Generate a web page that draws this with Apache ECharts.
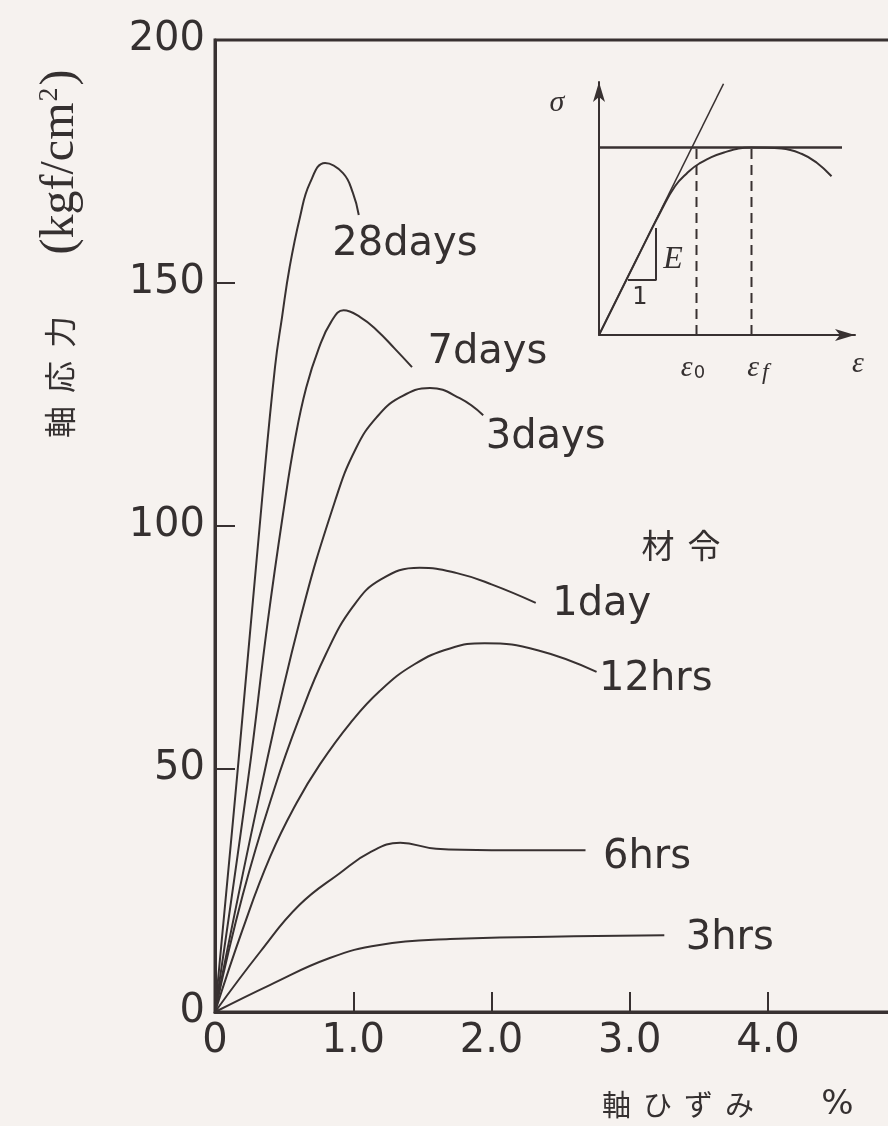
<!DOCTYPE html>
<html>
<head>
<meta charset="utf-8">
<script src="https://cdn.jsdelivr.net/npm/echarts@6/dist/echarts.min.js"></script>
<style>
  html, body { margin: 0; padding: 0; background: #f6f2ef; }
  #chart { width: 888px; height: 1126px; }
</style>
</head>
<body>
<div id="chart"></div>
<script>
// Axial stress (kgf/cm2) versus axial strain (%) of concrete at different ages.
const curveNames = ['28days', '7days', '3days', '1day', '12hrs', '6hrs', '3hrs'];

const days28 = [[0,0],[0.166,50.4],[0.34,105.3],[0.434,132.7],[0.485,143],[0.54,153.3],[0.615,163.6],[0.687,170.6],[0.796,174.7],[0.926,172.6],[0.998,168.5],[1.04,164]];
const days7  = [[0,0],[0.24,48],[0.38,80],[0.5,104],[0.58,118],[0.66,128.5],[0.75,136.5],[0.84,142],[0.93,144.4],[1.05,143],[1.17,140.3],[1.3,136.5],[1.425,132.7]];
const days3  = [[0,0],[0.33,45.7],[0.615,80.7],[0.87,105.3],[1.02,116],[1.17,122.4],[1.34,126.5],[1.555,128.4],[1.77,126.3],[1.94,122.8]];
const day1   = [[0,0],[0.2,24],[0.43,46],[0.61,60.5],[0.8,73.5],[1.0,83.5],[1.2,89],[1.48,91.4],[1.75,90.3],[2.0,88],[2.32,84.2]];
const hrs12  = [[0,0],[0.2,17],[0.4,32],[0.59,43],[0.76,51],[0.98,59.5],[1.19,66],[1.44,71.5],[1.7,74.8],[1.95,75.9],[2.34,74.4],[2.76,70]];
const hrs6   = [[0,0],[0.33,12.5],[0.61,22],[0.9,28.5],[1.13,33],[1.34,34.8],[1.6,33.6],[2.0,33.3],[2.68,33.3]];
const hrs3   = [[0,0],[0.4,5.6],[0.83,11.1],[1.19,13.8],[1.7,15],[2.42,15.5],[3.25,15.8]];
const curves = [days28, days7, days3, day1, hrs12, hrs6, hrs3];

const xTickLabels = ['0', '1.0', '2.0', '3.0', '4.0', ''];
const yTickLabels = ['0', '50', '100', '150', '200'];

// Age caption placed inside the plot (strain %, stress)
const ageCaption = [[3.37, 96]];

// Schematic inset: idealised stress-strain curve (arbitrary units)
const insetCurve   = [[0,0],[1.5,3.02],[2.5,5.0],[3.04,5.95],[3.5,6.45],[4.0,6.85],[5,7.3],[6.1,7.5],[7.3,7.46],[8.1,7.25],[8.7,6.9],[9.3,6.35]];
const insetTangent = [[0,0],[4.98,10.05]];
const insetPeak    = [[0,7.5],[9.72,7.5]];
const insetEps0    = [[3.9,0],[3.9,7.5]];
const insetEpsF    = [[6.1,0],[6.1,7.5]];
const insetSlope   = [[1.16,2.2],[2.28,2.2],[2.28,4.28]];
const insetLabels  = [
  { value: [-1.68, 9.28], text: '{i|σ}' },
  { value: [2.96, 3.0],  text: '{e|E}' },
  { value: [1.64, 1.48], text: '{n|1}' },
  { value: [3.76, -1.32], text: '{g|ε}{sub|0}' },
  { value: [6.36, -1.32], text: '{g|ε}{subi|f}' },
  { value: [10.36, -1.16], text: '{g|ε}' }
];

// Label offsets (px) relative to the end of each curve
const labelOffsets = [[-27, 30], [15, -14], [2, 22], [16, 2], [2, 8], [17, 7], [21, 3]];

const ink = '#383131';
const textInk = '#353030';
const sans = 'DejaVu Sans';
const cjk = 'Noto Sans CJK JP';
const serif = 'Liberation Serif';

const chart = echarts.init(document.getElementById('chart'), null, { renderer: 'canvas' });

const mainSeries = curves.map((pts, i) => ({
  type: 'line',
  name: curveNames[i],
  xAxisIndex: 0, yAxisIndex: 0,
  data: pts,
  smooth: 0.45,
  showSymbol: false,
  lineStyle: { color: ink, width: 2 },
  silent: true,
  z: 3
}));

const endLabelSeries = {
  type: 'scatter',
  xAxisIndex: 0, yAxisIndex: 0,
  symbolSize: 1,
  itemStyle: { color: 'rgba(0,0,0,0)', opacity: 1 },
  clip: false,
  silent: true,
  data: curves.map((pts, i) => ({
    value: pts[pts.length - 1],
    label: {
      show: true,
      position: 'right',
      distance: 0,
      offset: labelOffsets[i],
      formatter: curveNames[i],
      fontFamily: sans,
      fontSize: 40,
      color: textInk,
      opacity: 1
    }
  })),
  z: 4
};

const captionSeries = {
  type: 'scatter',
  xAxisIndex: 0, yAxisIndex: 0,
  symbolSize: 0,
  itemStyle: { opacity: 1 },
  silent: true,
  data: ageCaption,
  label: {
    show: true,
    position: 'inside',
    formatter: '{c|材}{c|令}',
    rich: { c: { fontFamily: cjk, fontSize: 33, width: 46, align: 'center', color: textInk } }
  }
};

function insetLine(data, extra) {
  return Object.assign({
    type: 'line',
    xAxisIndex: 1, yAxisIndex: 1,
    data: data,
    showSymbol: false,
    silent: true,
    clip: false,
    lineStyle: { color: ink, width: 2 }
  }, extra || {});
}

const insetSeries = [
  insetLine(insetCurve, { smooth: 0.45 }),
  insetLine(insetTangent, { lineStyle: { color: ink, width: 1.6 } }),
  insetLine(insetPeak, { lineStyle: { color: ink, width: 2.4 } }),
  insetLine(insetEps0, { lineStyle: { color: ink, width: 2, type: [10, 6] } }),
  insetLine(insetEpsF, { lineStyle: { color: ink, width: 2, type: [10, 6] } }),
  insetLine(insetSlope, { lineStyle: { color: ink, width: 2 } }),
  {
    type: 'scatter',
    xAxisIndex: 1, yAxisIndex: 1,
    symbolSize: 0,
    itemStyle: { opacity: 1 },
    clip: false,
    silent: true,
    data: insetLabels.map(d => ({ value: d.value, label: { formatter: d.text } })),
    label: {
      show: true,
      position: 'inside',
      color: textInk,
      rich: {
        i: { fontFamily: serif, fontStyle: 'italic', fontSize: 30, color: textInk },
        e: { fontFamily: serif, fontStyle: 'italic', fontSize: 32, color: textInk },
        n: { fontFamily: sans, fontSize: 24, color: textInk },
        g: { fontFamily: serif, fontStyle: 'italic', fontSize: 30, color: textInk },
        sub: { fontFamily: sans, fontSize: 18, color: textInk, padding: [10, 0, 0, 1] },
        subi: { fontFamily: serif, fontStyle: 'italic', fontSize: 24, color: textInk, padding: [10, 0, 0, 3] }
      }
    }
  }
];

const option = {
  backgroundColor: '#f6f2ef',
  animation: false,
  grid: [
    { left: 215, top: 40, width: 691.25, height: 972, show: true, borderColor: ink, borderWidth: 3,
      backgroundColor: 'transparent', outerBoundsMode: 'none', containLabel: false },
    { left: 599, top: 82, width: 256, height: 253, outerBoundsMode: 'none', containLabel: false }
  ],
  xAxis: [
    {
      type: 'value', gridIndex: 0, min: 0, max: 5, interval: 1,
      axisLine: { show: true, lineStyle: { color: ink, width: 3 } },
      axisTick: { show: true, inside: true, length: 20, lineStyle: { color: ink, width: 2 } },
      axisLabel: {
        margin: 10, fontFamily: sans, fontSize: 40, color: textInk,
        formatter: v => xTickLabels[Math.round(v)]
      },
      splitLine: { show: false }
    },
    {
      type: 'value', gridIndex: 1, min: 0, max: 10.24,
      axisLine: { show: true, symbol: ['none', 'arrow'], symbolSize: [9, 20], lineStyle: { color: ink, width: 2 } },
      axisTick: { show: false }, axisLabel: { show: false }, splitLine: { show: false }
    }
  ],
  yAxis: [
    {
      type: 'value', gridIndex: 0, min: 0, max: 200, interval: 50,
      axisLine: { show: true, lineStyle: { color: ink, width: 3 } },
      axisTick: { show: true, inside: true, length: 20, lineStyle: { color: ink, width: 2 } },
      axisLabel: {
        margin: 10, fontFamily: sans, fontSize: 40, color: textInk,
        formatter: v => yTickLabels[Math.round(v / 50)]
      },
      splitLine: { show: false }
    },
    {
      type: 'value', gridIndex: 1, min: 0, max: 10.12,
      axisLine: { show: true, symbol: ['none', 'arrow'], symbolSize: [9, 20], lineStyle: { color: ink, width: 2 } },
      axisTick: { show: false }, axisLabel: { show: false }, splitLine: { show: false }
    }
  ],
  graphic: [
    {
      type: 'text',
      x: 60, y: 257,
      rotation: Math.PI / 2,
      silent: true,
      style: {
        text: '{c|軸}{c|応}{c|力}{g|}{r|(kgf/cm}{s|2}{r|)}',
        align: 'center',
        verticalAlign: 'middle',
        fill: textInk,
        rich: {
          c: { fontFamily: cjk, fontSize: 32, width: 45, align: 'center', fill: textInk },
          g: { width: 55 },
          r: { fontFamily: serif, fontSize: 48, fill: textInk },
          s: { fontFamily: serif, fontSize: 28, fill: textInk, padding: [0, 2, 20, 1] }
        }
      }
    },
    {
      type: 'text',
      x: 596, y: 1105,
      silent: true,
      style: {
        text: '{c|軸}{c|ひ}{c|ず}{c|み}{g|}{p|%}',
        align: 'left',
        verticalAlign: 'middle',
        fill: textInk,
        rich: {
          c: { fontFamily: cjk, fontSize: 29, width: 41, align: 'center', fill: textInk },
          g: { width: 57 },
          p: { fontFamily: sans, fontSize: 34, width: 41, align: 'center', fill: textInk }
        }
      }
    }
  ],
  series: mainSeries.concat([endLabelSeries, captionSeries], insetSeries)
};

chart.setOption(option);
</script>
</body>
</html>
